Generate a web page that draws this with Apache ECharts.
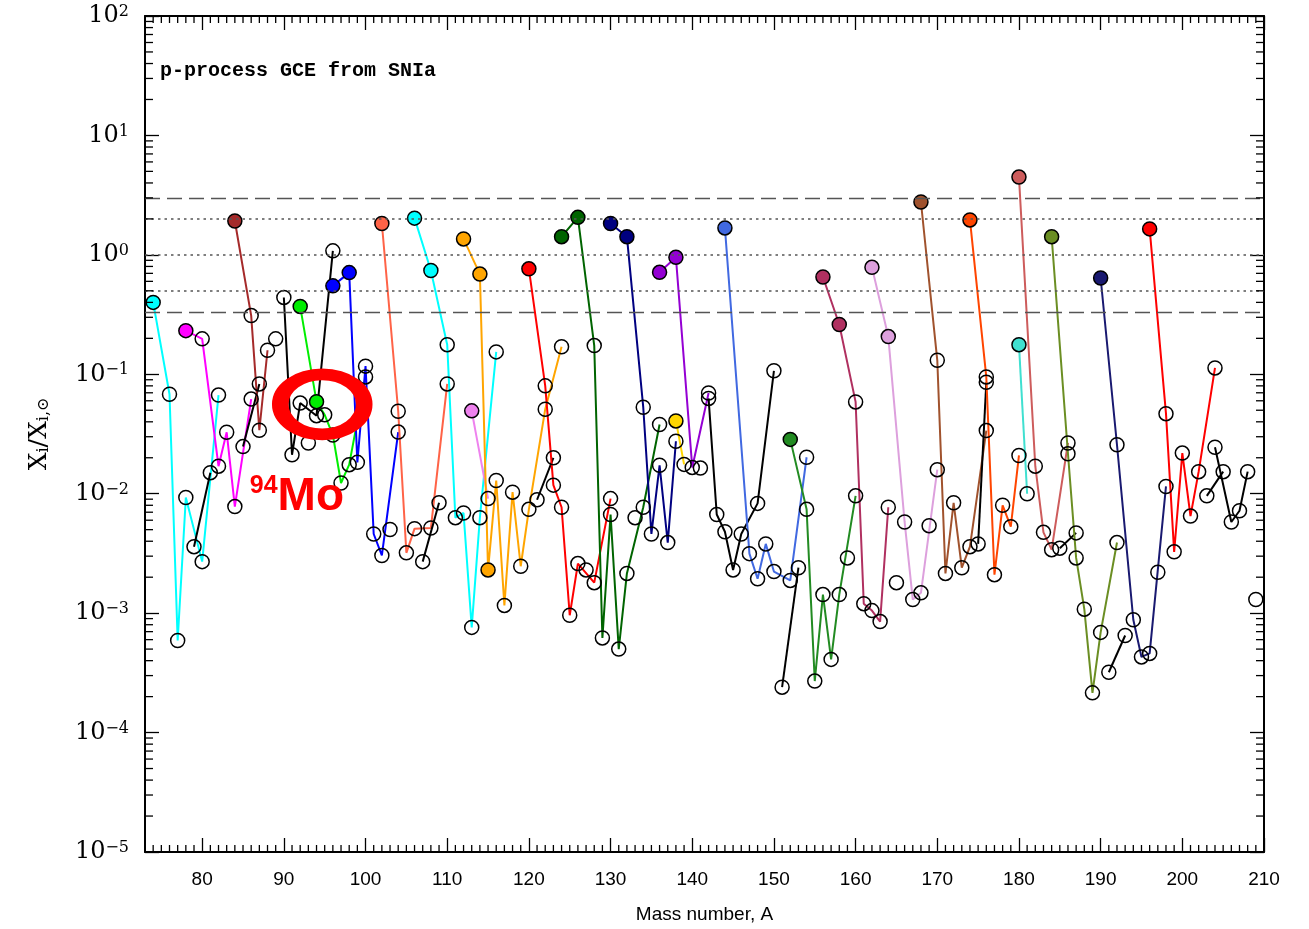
<!DOCTYPE html>
<html>
<head>
<meta charset="utf-8">
<script src="https://cdn.jsdelivr.net/npm/echarts@6/dist/echarts.min.js"></script>
<style>
html, body { margin: 0; padding: 0; background: #fff; }
#chart { width: 1309px; height: 929px; }
</style>
</head>
<body>
<div id="chart"></div>
<script>
var myChart = echarts.init(document.getElementById("chart"));

// isotope abundance ratios [A, X/Xsun], one array per element
var Se = [[74, 0.40], [76, 0.068], [77, 5.9e-4], [78, 0.0093], [80, 0.0027], [82, 0.067]];
var Br = [[79, 0.0036], [81, 0.015]];
var Kr = [[78, 0.232], [80, 0.198], [82, 0.017], [83, 0.0327], [84, 0.0078], [86, 0.062]];
var Rb = [[85, 0.0248], [87, 0.083]];
var Sr = [[84, 1.92], [86, 0.31], [87, 0.034], [88, 0.159]];
var Zr = [[90, 0.44], [91, 0.0212], [92, 0.0574], [94, 0.045], [96, 1.08]];
var Mo = [[92, 0.37], [94, 0.059], [95, 0.0458], [96, 0.031], [97, 0.0123], [98, 0.0175], [100, 0.095]];
var Ru = [[96, 0.55], [98, 0.71], [99, 0.0183], [100, 0.117], [101, 0.0046], [102, 0.00304], [104, 0.0328]];
var Pd = [[102, 1.83], [104, 0.049], [105, 0.0032], [106, 0.0051], [108, 0.00516], [110, 0.083]];
var Ag = [[107, 0.0027], [109, 0.0084]];
var Cd = [[106, 2.03], [108, 0.74], [110, 0.177], [111, 0.0063], [112, 0.0069], [113, 7.6e-4], [114, 0.0063], [116, 0.154]];
var In = [[113, 0.0494], [115, 0.0091]];
var Sn = [[112, 1.36], [114, 0.69], [115, 0.0023], [116, 0.0129], [117, 0.00116], [118, 0.0103], [119, 0.00247], [120, 0.0074], [122, 0.051], [124, 0.17]];
var Sb = [[121, 0.0089], [123, 0.020]];
var Te = [[120, 0.764], [122, 0.080], [123, 0.0118], [124, 0.0077], [125, 9.6e-4], [126, 0.0026], [128, 0.0018], [130, 0.0091]];
var Xe = [[124, 1.42], [126, 2.06], [128, 0.174], [129, 6.2e-4], [130, 0.0067], [131, 5.0e-4], [132, 0.00215], [134, 0.0077], [136, 0.038]];
var Ba = [[130, 1.83], [132, 1.42], [134, 0.053], [135, 0.0046], [136, 0.0173], [137, 0.0039], [138, 0.0275]];
var La = [[138, 0.0407], [139, 0.0176]];
var Ce = [[136, 0.714], [138, 0.953], [140, 0.0166], [142, 0.0697]];
var Nd = [[142, 0.0628], [143, 0.0067], [144, 0.0048], [145, 0.0023], [146, 0.0046], [148, 0.0083], [150, 0.107]];
var Sm = [[144, 1.68], [147, 0.00315], [148, 0.00194], [149, 0.0038], [150, 0.00223], [152, 0.00188], [154, 0.0202]];
var Eu = [[151, 2.4e-4], [153, 0.0024]];
var Gd = [[152, 0.0285], [154, 0.0074], [155, 2.7e-4], [156, 0.00143], [157, 4.1e-4], [158, 0.00143], [160, 0.0096]];
var Dy = [[156, 0.653], [158, 0.261], [160, 0.0587], [161, 0.0012], [162, 0.00105], [163, 8.5e-4], [164, 0.0077]];
var Er = [[162, 0.786], [164, 0.207], [166, 0.0058], [167, 0.0013], [168, 0.00148], [170, 0.0159]];
var Yb = [[168, 2.77], [170, 0.131], [171, 0.00215], [172, 0.0084], [173, 0.0024], [174, 0.0036], [176, 0.0338]];
var Lu = [[175, 0.0038], [176, 0.0857]];
var Hf = [[174, 1.96], [176, 0.095], [177, 0.0021], [178, 0.008], [179, 0.0053], [180, 0.0209]];
var Ta = [[180, 0.177], [181, 0.010]];
var W = [[180, 4.48], [182, 0.017], [183, 0.00475], [184, 0.0034], [186, 0.0266]];
var Re = [[185, 0.0035], [187, 0.0047]];
var Os = [[184, 1.42], [186, 0.0216], [187, 0.0029], [188, 0.00108], [189, 2.15e-4], [190, 6.9e-4], [192, 0.0039]];
var Ir = [[191, 3.2e-4], [193, 6.5e-4]];
var Pt = [[190, 0.64], [192, 0.0257], [194, 8.8e-4], [195, 4.3e-4], [196, 4.6e-4], [198, 0.0115]];
var Hg = [[196, 1.65], [198, 0.0468], [199, 0.00326], [200, 0.0219], [201, 0.0065], [202, 0.0153], [204, 0.113]];
var Tl = [[203, 0.0096], [205, 0.0153]];
var Pb = [[204, 0.0245], [206, 0.0058], [207, 0.0072], [208, 0.0153]];

// mono-isotopic elements (Y, Nb, Rh, I, Cs, Pr, Tb, Ho, Tm, Au, Bi)
var singles = [[89, 0.198], [93, 0.0266], [103, 0.00502], [127, 0.0023], [133, 0.0063], [141, 0.0164],
	[159, 0.0029], [165, 0.0018], [169, 0.0054], [197, 0.0022], [209, 0.0013]];

var lineSets = [Se, Br, Kr, Rb, Sr, Zr, Mo, Ru, Pd, Ag, Cd, In, Sn, Sb, Te, Xe, Ba, La, Ce, Nd, Sm, Eu, Gd,
	Dy, Er, Yb, Lu, Hf, Ta, W, Re, Os, Ir, Pt, Hg, Tl, Pb];
var lineColors = ["#00ffff", "#000000", "#ff00ff", "#000000", "#a52a2a", "#000000", "#00ee00", "#0000ff",
	"#ff6347", "#000000", "#00ffff", "#ee82ee", "#ffa500", "#000000", "#ff0000", "#006400", "#000080",
	"#ffd700", "#9400d3", "#000000", "#4169e1", "#000000", "#228b22", "#b03060", "#dda0dd", "#a0522d",
	"#000000", "#ff4500", "#40e0d0", "#cd5c5c", "#000000", "#6b8e23", "#000000", "#191970", "#ff0000",
	"#000000", "#000000"];
// p-nuclei (filled markers) for each element above
var pNuclei = [[74], [], [78], [], [84], [], [92, 94], [96, 98], [102], [], [106, 108], [113], [112, 114, 115],
	[], [120], [124, 126], [130, 132], [138], [136, 138], [], [144], [], [152], [156, 158], [162, 164], [168],
	[], [174], [180], [180], [], [184], [], [190], [196], [], []];

var refDashed = [3, 1 / 3];
var refDotted = [2, 1, 0.5];

var xTicks = [80, 90, 100, 110, 120, 130, 140, 150, 160, 170, 180, 190, 200, 210];
var yTicks = [1e-5, 1e-4, 1e-3, 1e-2, 1e-1, 1, 10, 100];

// annotation: ring around 94Mo and its label
var ringCenter = [94.7, 0.056];
var moLabelPos = [91.6, 0.0094];

var xMin = 73, xMax = 210;

var xMinor = [];
for (var a = 74; a < xMax; a++) {
	if (a % 10 !== 0) xMinor.push([a, 1]);
}
var yMinor = [];
for (var k = 0; k < yTicks.length - 1; k++) {
	for (var m = 2; m <= 9; m++) yMinor.push([xMin, yTicks[k] * m]);
}

var series = [];

// reference lines
series.push({
	type: "line",
	data: [[xMin, 1e-5]],
	showSymbol: false,
	lineStyle: { width: 0 },
	z: 1,
	silent: true,
	markLine: {
		silent: true,
		symbol: "none",
		label: { show: false },
		data: refDashed.map(function (v) {
			return { yAxis: v, lineStyle: { type: [15, 7], color: "#555", width: 1.3 } };
		}).concat(refDotted.map(function (v) {
			return { yAxis: v, lineStyle: { type: [2.5, 4], color: "#555", width: 1.5 } };
		}))
	}
});

lineSets.forEach(function (set, i) {
	series.push({
		type: "line",
		data: set.map(function (p) {
			if (pNuclei[i].indexOf(p[0]) >= 0) {
				return { value: p, itemStyle: { color: lineColors[i] } };
			}
			return p;
		}),
		symbol: "circle",
		symbolSize: 14,
		itemStyle: { color: "rgba(0,0,0,0)", borderColor: "#000", borderWidth: 1.5, opacity: 1 },
		lineStyle: { color: lineColors[i], width: 2 },
		emphasis: { disabled: true },
		z: 3
	});
});

series.push({
	type: "scatter",
	data: singles,
	symbol: "circle",
	symbolSize: 14,
	itemStyle: { color: "rgba(0,0,0,0)", borderColor: "#000", borderWidth: 1.5, opacity: 1 },
	emphasis: { disabled: true },
	z: 3
});

// minor ticks, drawn along the frame
series.push({
	type: "custom",
	data: xMinor,
	silent: true,
	z: 5,
	renderItem: function (params, api) {
		var cs = params.coordSys;
		var px = api.coord([api.value(0), 1])[0];
		var st = { stroke: "#000", lineWidth: 1.3 };
		return {
			type: "group",
			children: [
				{ type: "line", shape: { x1: px, y1: cs.y + cs.height, x2: px, y2: cs.y + cs.height - 7 }, style: st },
				{ type: "line", shape: { x1: px, y1: cs.y, x2: px, y2: cs.y + 7 }, style: st }
			]
		};
	}
});
series.push({
	type: "custom",
	data: yMinor,
	silent: true,
	z: 5,
	renderItem: function (params, api) {
		var cs = params.coordSys;
		var py = api.coord([xMin, api.value(1)])[1];
		var st = { stroke: "#000", lineWidth: 1.3 };
		return {
			type: "group",
			children: [
				{ type: "line", shape: { x1: cs.x, y1: py, x2: cs.x + 8, y2: py }, style: st },
				{ type: "line", shape: { x1: cs.x + cs.width, y1: py, x2: cs.x + cs.width - 8, y2: py }, style: st }
			]
		};
	}
});

// red ring + label
series.push({
	type: "scatter",
	data: [ringCenter],
	symbol: "circle",
	symbolSize: [84, 60],
	itemStyle: { color: "rgba(0,0,0,0)", borderColor: "#ff0000", borderWidth: 14, opacity: 1 },
	emphasis: { disabled: true },
	silent: true,
	z: 10
});
series.push({
	type: "scatter",
	data: [moLabelPos],
	symbolSize: 1,
	itemStyle: { color: "rgba(0,0,0,0)", opacity: 1 },
	silent: true,
	z: 11,
	label: {
		show: true,
		position: "inside",
		opacity: 1,
		formatter: "{s|94}{m|Mo}",
		rich: {
			s: { fontFamily: "Liberation Sans", fontWeight: "bold", fontSize: 25, color: "#ff0000", verticalAlign: "top" },
			m: { fontFamily: "Liberation Sans", fontWeight: "bold", fontSize: 46, color: "#ff0000" }
		}
	}
});

var yRich = {
	b: { fontFamily: "DejaVu Serif", fontSize: 24, color: "#000" },
	e: { fontFamily: "DejaVu Serif", fontSize: 16, color: "#000", verticalAlign: "top" }
};

var option = {
	animation: false,
	backgroundColor: "#fff",
	grid: { left: 145, right: 45, top: 16, bottom: 77, containLabel: false, outerBoundsMode: "none" },
	xAxis: [
		{
			type: "value",
			min: xMin,
			max: xMax,
			position: "bottom",
			name: "Mass number, A",
			nameLocation: "middle",
			nameGap: 53,
			nameTextStyle: { fontFamily: "Liberation Sans", fontSize: 19, color: "#000" },
			axisLine: { show: true, onZero: false, lineStyle: { color: "#000", width: 2 } },
			axisTick: { show: true, inside: true, length: 14, customValues: xTicks, lineStyle: { color: "#000", width: 1.3 } },
			axisLabel: { customValues: xTicks, margin: 18, fontFamily: "Liberation Sans", fontSize: 19, color: "#000" },
			splitLine: { show: false }
		},
		{
			type: "value",
			min: xMin,
			max: xMax,
			position: "top",
			axisLine: { show: true, onZero: false, lineStyle: { color: "#000", width: 2 } },
			axisTick: { show: true, inside: true, length: 14, customValues: xTicks, lineStyle: { color: "#000", width: 1.3 } },
			axisLabel: { show: false },
			splitLine: { show: false }
		}
	],
	yAxis: [
		{
			type: "log",
			logBase: 10,
			min: 1e-5,
			max: 100,
			position: "left",
			name: "{a|X}{s|i}{a|/X}{s|i,\u2299}",
			nameLocation: "middle",
			nameRotate: 90,
			nameGap: 93,
			nameTextStyle: {
				rich: {
					a: { fontFamily: "DejaVu Serif", fontSize: 25, color: "#000" },
					s: { fontFamily: "DejaVu Serif", fontSize: 16, color: "#000", verticalAlign: "bottom" }
				}
			},
			axisLine: { show: true, onZero: false, lineStyle: { color: "#000", width: 2 } },
			axisTick: { show: true, inside: true, length: 14, lineStyle: { color: "#000", width: 1.3 } },
			axisLabel: {
				margin: 16,
				formatter: function (v) {
					var e = Math.round(Math.log10(v));
					return "{b|10}{e|" + (e < 0 ? "\u2212" + (-e) : e) + "}";
				},
				rich: yRich
			},
			splitLine: { show: false }
		},
		{
			type: "log",
			logBase: 10,
			min: 1e-5,
			max: 100,
			position: "right",
			axisLine: { show: true, onZero: false, lineStyle: { color: "#000", width: 2 } },
			axisTick: { show: true, inside: true, length: 14, lineStyle: { color: "#000", width: 1.3 } },
			axisLabel: { show: false },
			splitLine: { show: false }
		}
	],
	graphic: [
		{
			type: "text",
			left: 160,
			top: 61,
			style: {
				text: "p-process GCE from SNIa",
				font: 'bold 20px "Liberation Mono"',
				fill: "#000"
			}
		}
	],
	series: series
};

myChart.setOption(option);
</script>
</body>
</html>
